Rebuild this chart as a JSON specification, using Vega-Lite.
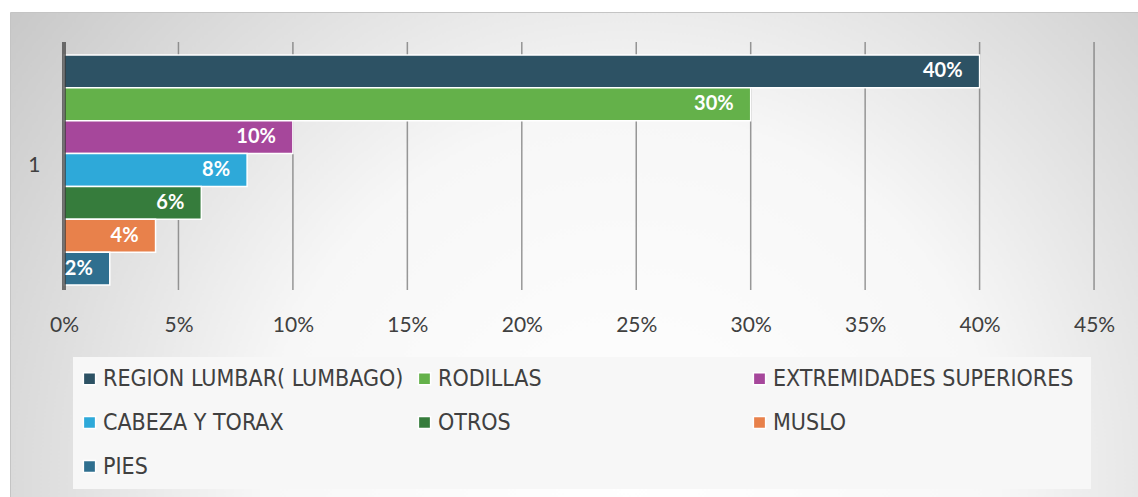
{
  "$schema": "https://vega.github.io/schema/vega-lite/v6.json",
  "width": 1128,
  "height": 485,
  "autosize": {"type": "none"},
  "padding": {"left": 10, "top": 12, "right": 0, "bottom": 0},
  "background": "#ffffff",
  "view": {
    "stroke": "#c4c4c4",
    "strokeWidth": 1,
    "fill": {
      "gradient": "radial",
      "x1": 0.55, "y1": 0.7, "r1": 0,
      "x2": 0.55, "y2": 0.7, "r2": 0.72,
      "stops": [
        {"offset": 0, "color": "#ffffff"},
        {"offset": 0.45, "color": "#f7f7f7"},
        {"offset": 1, "color": "#c4c4c4"}
      ]
    }
  },
  "datasets": {
    "zonas": [
      {"zona": "REGION LUMBAR( LUMBAGO)", "valor": 0.40, "grupo": "1", "orden": 1},
      {"zona": "RODILLAS", "valor": 0.30, "grupo": "1", "orden": 2},
      {"zona": "EXTREMIDADES  SUPERIORES", "valor": 0.10, "grupo": "1", "orden": 3},
      {"zona": "CABEZA Y TORAX", "valor": 0.08, "grupo": "1", "orden": 4},
      {"zona": "OTROS", "valor": 0.06, "grupo": "1", "orden": 5},
      {"zona": "MUSLO", "valor": 0.04, "grupo": "1", "orden": 6},
      {"zona": "PIES", "valor": 0.02, "grupo": "1", "orden": 7}
    ],
    "rejilla": [
      {"v": 0, "grupo": "1"},
      {"v": 0.05, "grupo": "1"},
      {"v": 0.10, "grupo": "1"},
      {"v": 0.15, "grupo": "1"},
      {"v": 0.20, "grupo": "1"},
      {"v": 0.25, "grupo": "1"},
      {"v": 0.30, "grupo": "1"},
      {"v": 0.35, "grupo": "1"},
      {"v": 0.40, "grupo": "1"},
      {"v": 0.45, "grupo": "1"}
    ]
  },
  "encoding": {
    "y": {
      "field": "grupo",
      "type": "nominal",
      "title": null,
      "scale": {"paddingInner": 0, "paddingOuter": 0.4778, "align": 0.1266},
      "axis": {
        "ticks": false,
        "domain": false,
        "offset": -30,
        "labelPadding": 0,
        "labelFont": "Lato",
        "labelFontSize": 21,
        "labelColor": "#404040"
      }
    }
  },
  "layer": [
    {
      "data": {"name": "rejilla"},
      "transform": [{"filter": "datum.v > 0"}],
      "mark": {"type": "tick", "size": 248, "thickness": 1.5, "color": "#6e6e6e"},
      "encoding": {
        "x": {
          "field": "v",
          "type": "quantitative",
          "title": null,
          "scale": {"domain": [-0.02359, 0.4692], "nice": false, "zero": false},
          "axis": {
            "values": [0, 0.05, 0.1, 0.15, 0.2, 0.25, 0.3, 0.35, 0.4, 0.45],
            "format": ".0%",
            "grid": false,
            "ticks": false,
            "domain": false,
            "orient": "bottom",
            "offset": -183,
            "labelPadding": 0,
            "labelFont": "Lato",
            "labelFontSize": 21,
            "labelColor": "#404040",
            "labelFlush": false,
            "labelOverlap": false
          }
        }
      }
    },
    {
      "data": {"name": "zonas"},
      "mark": {"type": "bar", "stroke": "#ffffff", "strokeWidth": 1.5, "opacity": 1},
      "encoding": {
        "x": {"field": "valor", "type": "quantitative"},
        "x2": {"datum": 0},
        "yOffset": {
          "field": "zona",
          "type": "nominal",
          "sort": {"field": "orden"},
          "scale": {"paddingInner": 0, "paddingOuter": 0.2735, "align": 0.722}
        },
        "color": {
          "field": "zona",
          "type": "nominal",
          "sort": {"field": "orden"},
          "scale": {
            "domain": ["REGION LUMBAR( LUMBAGO)", "RODILLAS", "EXTREMIDADES  SUPERIORES", "CABEZA Y TORAX", "OTROS", "MUSLO", "PIES"],
            "range": ["#2d5264", "#64b14a", "#a6479b", "#2ea9d9", "#367c3c", "#e8814b", "#2f6f8f"]
          },
          "legend": {
            "title": null,
            "orient": "none",
            "legendX": 63,
            "legendY": 345,
            "direction": "horizontal",
            "columns": 3,
            "gridAlign": "all",
            "columnPadding": 4,
            "rowPadding": 20,
            "padding": 10,
            "fillColor": "#f7f7f7",
            "symbolType": "square",
            "symbolSize": 150,
            "symbolOffset": -5,
            "symbolStrokeColor": "#ffffff",
            "symbolStrokeWidth": 1.5,
            "symbolOpacity": 1,
            "labelFont": "DejaVu Sans Condensed, Roboto",
            "labelFontSize": 23,
            "labelColor": "#404040",
            "labelOffset": 2,
            "labelLimit": 0
          }
        }
      }
    },
    {
      "data": {"name": "rejilla"},
      "transform": [{"filter": "datum.v === 0"}],
      "mark": {"type": "tick", "size": 248, "thickness": 4, "color": "#3c3c3c"},
      "encoding": {
        "x": {"field": "v", "type": "quantitative"}
      }
    },
    {
      "data": {"name": "zonas"},
      "mark": {"type": "text", "align": "right", "baseline": "middle", "dx": -17, "font": "Lato", "fontWeight": "bold", "fontSize": 20, "color": "#ffffff"},
      "encoding": {
        "x": {"field": "valor", "type": "quantitative"},
        "yOffset": {"field": "zona", "type": "nominal", "sort": {"field": "orden"}},
        "text": {"field": "valor", "type": "quantitative", "format": ".0%"}
      }
    }
  ]
}
